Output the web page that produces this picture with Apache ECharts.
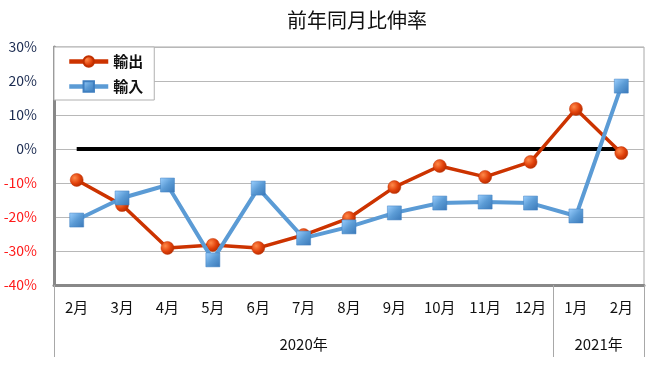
<!DOCTYPE html>
<html><head><meta charset="utf-8">
<script src="https://cdn.jsdelivr.net/npm/echarts@6/dist/echarts.min.js"></script>
<style>html,body{margin:0;padding:0;background:#fff}#c{width:662px;height:373px}</style>
</head><body><div id="c"></div>
<script>
const months = ['2月','3月','4月','5月','6月','7月','8月','9月','10月','11月','12月','1月','2月'];
const exportsRate = [-9.1, -16.5, -29.1, -28.2, -29.1, -25.3, -20.3, -11.2, -5.0, -8.2, -3.8, 11.8, -1.2];
const importsRate = [-20.9, -14.4, -10.6, -32.6, -11.5, -26.2, -22.9, -18.8, -15.9, -15.6, -15.9, -19.7, 18.5];
const zeroLine = [0,0,0,0,0,0,0,0,0,0,0,0,0];
const yearLabels = ['2020年','2021年'];
const yearCenters = [5.5, 12];
const yearBounds = [0, 11, 13];

const FONT = '"Noto Sans CJK JP", "Noto Sans", sans-serif';
const chart = echarts.init(document.getElementById('c'), null, {renderer:'canvas'});
const orangeGrad = new echarts.graphic.RadialGradient(0.35, 0.35, 0.7, [
  {offset:0, color:'#ff8a4a'},{offset:0.6, color:'#e0400a'},{offset:1, color:'#b32c00'}]);
const blueGrad = new echarts.graphic.LinearGradient(0, 0, 1, 1, [
  {offset:0, color:'#9cd0ff'},{offset:0.5, color:'#5b9bd5'},{offset:1, color:'#3a78b8'}]);
chart.setOption({
  animation:false,
  textStyle:{fontFamily:FONT},
  title:{text:'前年同月比伸率', left:352, textAlign:'center', top:5,
    textStyle:{fontSize:20, fontWeight:'normal', color:'#111', fontFamily:FONT}},
  legend:{data:['輸出','輸入'], orient:'vertical', left:54, top:47, padding:[7,11,6,13],
    itemGap:10, itemWidth:39, itemHeight:13, backgroundColor:'#fff', borderColor:'#b0b0b0', borderWidth:1,
    lineStyle:{width:4.5},
    textStyle:{fontSize:15, fontWeight:'bold', color:'#111', fontFamily:FONT}},
  grid:{left:54, right:18, top:47, bottom:88, show:true, borderColor:'#a8a8a8', borderWidth:1},
  xAxis:[{
    type:'category', data:months, boundaryGap:true, position:'bottom',
    axisLine:{show:true, onZero:false, lineStyle:{color:'#888', width:3}},
    axisTick:{show:false},
    axisLabel:{margin:15, fontSize:15, color:'#111', fontFamily:FONT, interval:0}
  },{
    type:'value', min:0, max:13, position:'bottom',
    axisLine:{show:false, onZero:false}, splitLine:{show:false},
    axisTick:{show:true, customValues:yearBounds, length:72, lineStyle:{color:'#a8a8a8', width:1}},
    axisLabel:{customValues:yearCenters, margin:52, fontSize:15, color:'#111', fontFamily:FONT,
      formatter:function(v){ return yearLabels[yearCenters.indexOf(v)] || ''; }}
  }],
  yAxis:{
    type:'value', min:-40, max:30, interval:10,
    axisLine:{show:true, onZero:false, lineStyle:{color:'#888', width:3}},
    axisTick:{show:false},
    splitLine:{lineStyle:{color:'#b8b8b8', width:1}},
    axisLabel:{margin:17, fontSize:14, fontFamily:FONT, formatter:function(v){return v+'%';},
      color:function(v){ return Number(v) < 0 ? '#ff1a1a' : '#1a2a50'; }}
  },
  series:[
    {name:'zero', type:'line', data:zeroLine, xAxisIndex:0, showSymbol:false, symbol:'none',
      lineStyle:{color:'#000', width:4}, itemStyle:{color:'#000'}, z:1, silent:true},
    {name:'輸出', type:'line', data:exportsRate, xAxisIndex:0, symbol:'circle', symbolSize:13,
      lineStyle:{color:'#cc3300', width:3.5}, itemStyle:{color:orangeGrad, borderColor:'#c03000', borderWidth:0.5}, z:3},
    {name:'輸入', type:'line', data:importsRate, xAxisIndex:0, symbol:'rect', symbolSize:14,
      lineStyle:{color:'#5b9bd5', width:4}, itemStyle:{color:blueGrad, borderColor:'#3f7fc0', borderWidth:0.5}, z:4}
  ]
});
</script></body></html>
